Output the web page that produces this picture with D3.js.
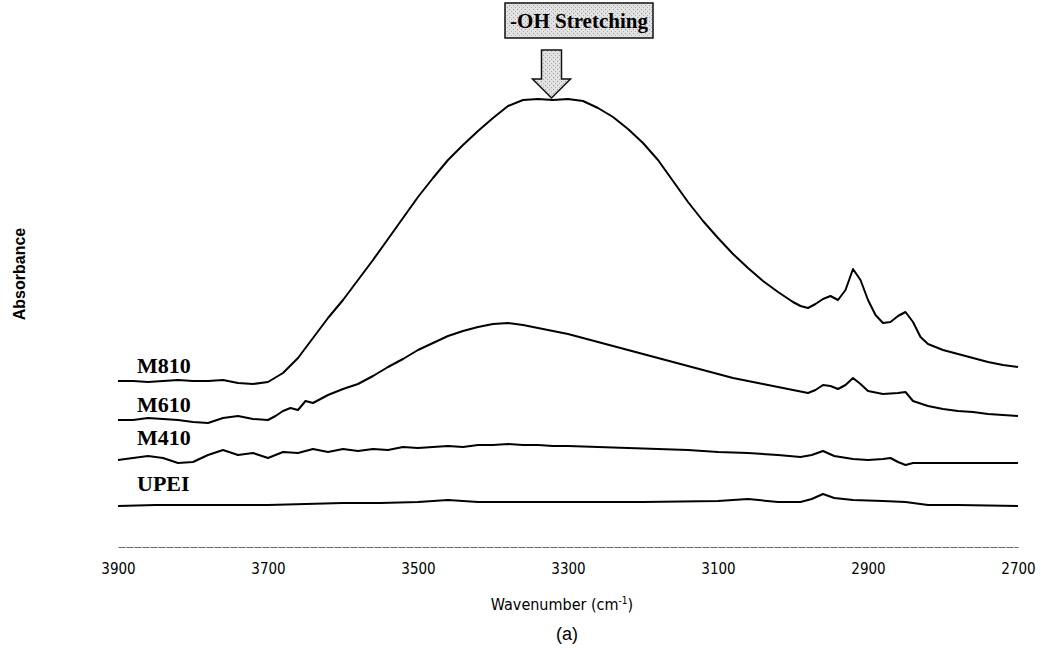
<!DOCTYPE html>
<html>
<head>
<meta charset="utf-8">
<script src="https://cdn.jsdelivr.net/npm/d3@7"></script>
<style>
  body { margin: 0; background: #fff; }
  svg { display: block; }
</style>
</head>
<body>
<div id="chart"></div>
<script>
// spectra as [wavenumber, absorbance (arb. units, stacked)]
var m810 = [[3900,1.66],[3880,1.66],[3860,1.65],[3840,1.66],[3820,1.67],[3800,1.66],[3780,1.66],[3760,1.67],
  [3740,1.64],[3720,1.63],[3700,1.65],[3680,1.74],[3660,1.89],[3640,2.09],[3620,2.29],[3600,2.47],[3580,2.67],
  [3560,2.87],[3540,3.08],[3520,3.29],[3500,3.50],[3480,3.69],[3460,3.87],[3440,4.02],[3420,4.16],[3400,4.29],
  [3380,4.41],[3360,4.47],[3340,4.48],[3320,4.47],[3300,4.48],[3280,4.46],[3260,4.39],[3240,4.30],[3220,4.18],
  [3200,4.04],[3180,3.87],[3160,3.66],[3140,3.45],[3120,3.26],[3100,3.09],[3080,2.93],[3060,2.79],[3040,2.66],
  [3020,2.55],[3000,2.45],[2990,2.41],[2980,2.39],[2970,2.43],[2960,2.48],[2950,2.51],[2940,2.47],[2930,2.57],
  [2920,2.78],[2910,2.67],[2900,2.47],[2890,2.32],[2880,2.24],[2870,2.25],[2860,2.31],[2850,2.35],[2840,2.25],
  [2830,2.10],[2820,2.03],[2800,1.97],[2780,1.93],[2760,1.89],[2740,1.85],[2720,1.82],[2700,1.80]];

var m610 = [[3900,1.27],[3880,1.27],[3860,1.29],[3840,1.28],[3820,1.27],[3800,1.25],[3780,1.24],[3760,1.29],
  [3740,1.31],[3720,1.28],[3700,1.27],[3690,1.31],[3680,1.36],[3670,1.39],[3660,1.37],[3650,1.46],[3640,1.44],
  [3630,1.48],[3620,1.52],[3600,1.58],[3580,1.63],[3560,1.71],[3540,1.80],[3520,1.88],[3500,1.97],[3480,2.04],
  [3460,2.11],[3440,2.16],[3420,2.20],[3400,2.23],[3380,2.24],[3360,2.22],[3340,2.19],[3320,2.16],[3300,2.13],
  [3280,2.09],[3260,2.05],[3240,2.01],[3220,1.97],[3200,1.93],[3180,1.89],[3160,1.85],[3140,1.81],[3120,1.77],
  [3100,1.73],[3080,1.69],[3060,1.66],[3040,1.63],[3020,1.60],[3000,1.57],[2980,1.54],[2970,1.57],[2960,1.62],
  [2950,1.61],[2940,1.58],[2930,1.62],[2920,1.69],[2910,1.63],[2900,1.56],[2880,1.53],[2860,1.54],[2850,1.55],
  [2840,1.46],[2820,1.41],[2800,1.38],[2780,1.36],[2760,1.35],[2740,1.33],[2720,1.32],[2700,1.31]];

var m410 = [[3900,0.87],[3880,0.89],[3860,0.91],[3840,0.89],[3820,0.84],[3800,0.85],[3780,0.92],[3760,0.97],
  [3740,0.92],[3720,0.94],[3700,0.89],[3690,0.92],[3680,0.95],[3660,0.94],[3640,0.98],[3620,0.95],[3600,0.98],
  [3580,0.96],[3560,0.98],[3540,0.97],[3520,1.00],[3500,0.99],[3480,1.00],[3460,1.01],[3440,1.00],[3420,1.02],
  [3400,1.02],[3380,1.03],[3360,1.02],[3340,1.02],[3320,1.01],[3300,1.01],[3260,1.00],[3220,0.99],[3180,0.98],
  [3140,0.97],[3100,0.95],[3060,0.94],[3020,0.92],[2990,0.90],[2975,0.92],[2960,0.96],[2945,0.91],[2920,0.88],
  [2900,0.87],[2880,0.88],[2870,0.89],[2860,0.85],[2850,0.82],[2840,0.84],[2800,0.84],[2760,0.84],[2700,0.84]];

var upei = [[3900,0.41],[3850,0.42],[3800,0.42],[3750,0.42],[3700,0.42],[3650,0.43],[3600,0.44],[3550,0.44],
  [3500,0.45],[3460,0.47],[3420,0.45],[3300,0.45],[3200,0.45],[3100,0.46],[3060,0.48],[3020,0.45],[2990,0.45],
  [2975,0.48],[2960,0.53],[2945,0.49],[2920,0.47],[2880,0.46],[2850,0.45],[2820,0.42],[2780,0.42],[2700,0.41]];

var seriesNames = ["M810", "M610", "M410", "UPEI"];
var seriesData = [m810, m610, m410, upei];
var xTicks = [3900, 3700, 3500, 3300, 3100, 2900, 2700];
var peakWn = 3322;

var width = 1041, height = 658;

var svg = d3.select("#chart").append("svg")
    .attr("width", width)
    .attr("height", height);

var x = d3.scaleLinear().domain([3900, 2700]).range([118, 1018]);
var y = d3.scaleLinear().domain([0, 4.5]).range([547, 97]);

// x axis
var xAxis = svg.append("g")
    .attr("transform", "translate(0,547)")
    .call(d3.axisBottom(x).tickValues(xTicks).tickSize(0).tickPadding(16).tickFormat(d3.format("d")));
xAxis.select(".domain").attr("stroke", "#666").attr("stroke-width", 1).attr("stroke-dasharray", "7,1");
xAxis.selectAll("text")
    .attr("font-family", "'DejaVu Sans Condensed', 'DejaVu Sans', sans-serif")
    .attr("font-size", "15px")
    .attr("fill", "#000");

// lines
var line = d3.line()
    .x(function (d) { return x(d[0]); })
    .y(function (d) { return y(d[1]); });

for (var i = 0; i < seriesData.length; i++) {
    svg.append("path")
        .datum(seriesData[i])
        .attr("fill", "none")
        .attr("stroke", "#000")
        .attr("stroke-width", 2)
        .attr("stroke-linejoin", "round")
        .attr("d", line);
}

// series labels
var labelY = [373, 412, 445, 491];
svg.selectAll(".slabel")
    .data(seriesNames)
    .enter().append("text")
    .attr("class", "slabel")
    .attr("x", 137)
    .attr("y", function (d, i) { return labelY[i]; })
    .attr("font-family", "'Liberation Serif', 'Times New Roman', serif")
    .attr("font-weight", "bold")
    .attr("font-size", "22px")
    .text(function (d) { return d; });

// axis titles
svg.append("text")
    .attr("x", 562)
    .attr("y", 610)
    .attr("text-anchor", "middle")
    .attr("font-family", "'DejaVu Sans Condensed', 'DejaVu Sans', sans-serif")
    .attr("font-size", "16px")
    .text("Wavenumber (cm")
    .append("tspan").attr("font-size", "10px").attr("dy", "-6").text("-1")
    .select(function () { return this.parentNode; })
    .append("tspan").attr("dy", "6").text(")");

svg.append("text")
    .attr("x", 567)
    .attr("y", 640)
    .attr("text-anchor", "middle")
    .attr("font-family", "'Liberation Sans', Arial, sans-serif")
    .attr("font-size", "18px")
    .text("(a)");

svg.append("text")
    .attr("transform", "translate(25,274) rotate(-90)")
    .attr("text-anchor", "middle")
    .attr("font-family", "'Liberation Sans', Arial, sans-serif")
    .attr("font-weight", "bold")
    .attr("font-size", "16px")
    .text("Absorbance");

// -OH stretching annotation
var defs = svg.append("defs");
var pat = defs.append("pattern")
    .attr("id", "stip")
    .attr("width", 4).attr("height", 4)
    .attr("patternUnits", "userSpaceOnUse");
pat.append("rect").attr("width", 4).attr("height", 4).attr("fill", "#e2e2e2");
pat.append("rect").attr("x", 1).attr("y", 1).attr("width", 1).attr("height", 1).attr("fill", "#9a9a9a");
pat.append("rect").attr("x", 3).attr("y", 3).attr("width", 1).attr("height", 1).attr("fill", "#b0b0b0");

svg.append("rect")
    .attr("x", 505).attr("y", 3)
    .attr("width", 148).attr("height", 35)
    .attr("fill", "url(#stip)")
    .attr("stroke", "#111")
    .attr("stroke-width", 1.5);

svg.append("text")
    .attr("x", 579)
    .attr("y", 28)
    .attr("text-anchor", "middle")
    .attr("font-family", "'Liberation Serif', 'Times New Roman', serif")
    .attr("font-weight", "bold")
    .attr("font-size", "21px")
    .text("-OH Stretching");

var ax = x(peakWn), tipY = y(4.48) - 1;
var arrowPts = [
    [ax - 10, 50], [ax + 10, 50], [ax + 10, 79], [ax + 19, 79],
    [ax, tipY], [ax - 19, 79], [ax - 10, 79]
];
svg.append("path")
    .attr("d", "M" + arrowPts.join("L") + "Z")
    .attr("fill", "url(#stip)")
    .attr("stroke", "#111")
    .attr("stroke-width", 1.5)
    .attr("stroke-linejoin", "miter");
</script>
</body>
</html>
